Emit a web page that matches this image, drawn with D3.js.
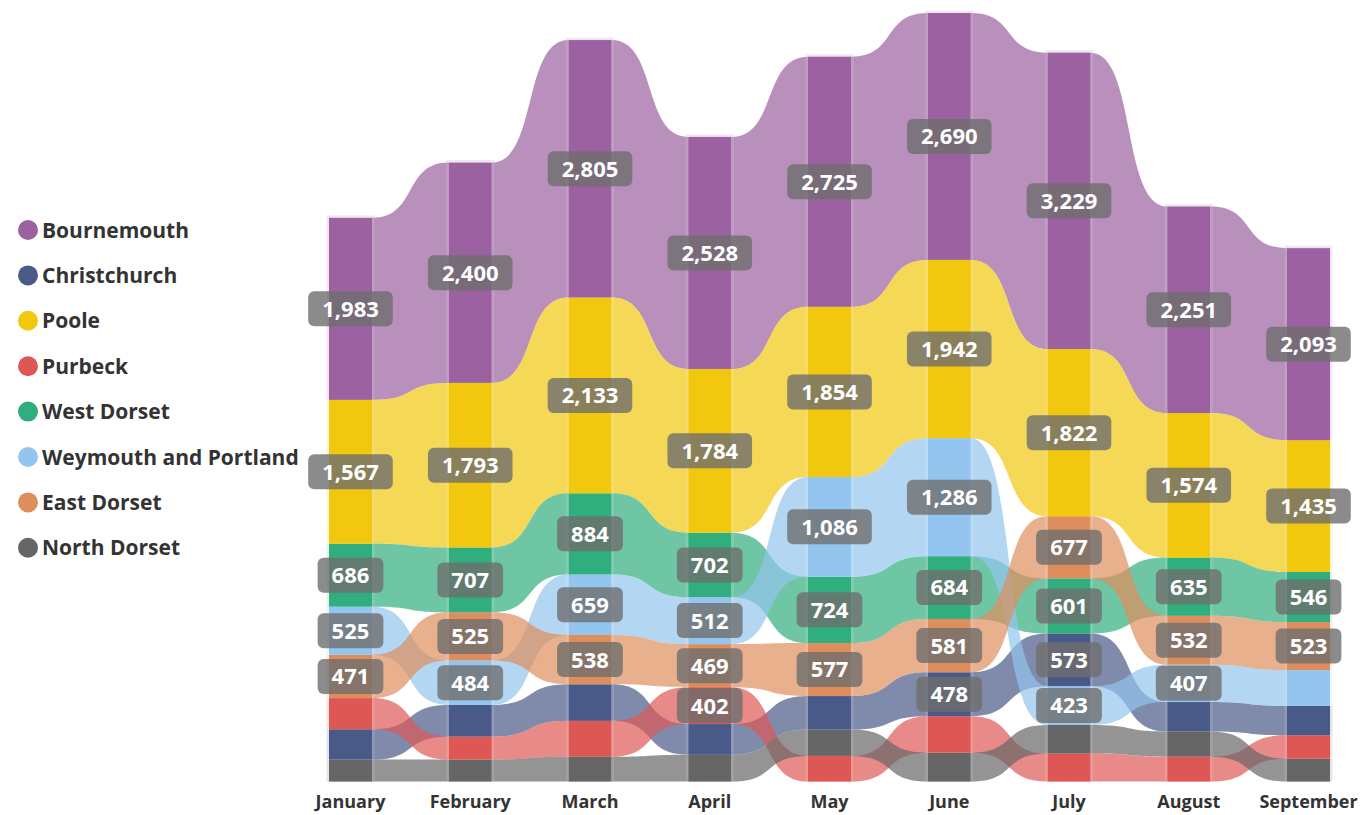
<!DOCTYPE html>
<html>
<head>
<meta charset="utf-8">
<script src="https://cdn.jsdelivr.net/npm/d3@7"></script>
<style>
  body { margin: 0; background: #fff; }
  text { font-family: "Open Sans", "Segoe UI", sans-serif; }
</style>
</head>
<body>
<svg id="chart" width="1371" height="815"></svg>
<script>
// months on the x axis
var months = ["January", "February", "March", "April", "May", "June", "July", "August", "September"];

// one array per district, month order
var bournemouth = [1983, 2400, 2805, 2528, 2725, 2690, 3229, 2251, 2093];
var christchurch = [330, 345, 398, 335, 365, 478, 573, 320, 320];
var poole = [1567, 1793, 2133, 1784, 1854, 1942, 1822, 1574, 1435];
var purbeck = [340, 250, 392, 402, 280, 398, 305, 272, 255];
var westDorset = [686, 707, 884, 702, 724, 684, 601, 635, 546];
var weymouth = [525, 484, 659, 512, 1086, 1286, 423, 407, 390];
var eastDorset = [471, 525, 538, 469, 577, 581, 677, 532, 523];
var northDorset = [240, 240, 270, 292, 287, 315, 312, 275, 250];

var seriesNames = ["Bournemouth", "Christchurch", "Poole", "Purbeck", "West Dorset",
                   "Weymouth and Portland", "East Dorset", "North Dorset"];
var seriesValues = [bournemouth, christchurch, poole, purbeck, westDorset,
                    weymouth, eastDorset, northDorset];

var palette = {
  "Bournemouth": "#9b61a0",
  "Christchurch": "#4a5a88",
  "Poole": "#f2c80f",
  "Purbeck": "#dd5855",
  "West Dorset": "#30ae7d",
  "Weymouth and Portland": "#93c5ee",
  "East Dorset": "#de8e5c",
  "North Dorset": "#666666"
};

var svg = d3.select("#chart");

// scales
var x = d3.scaleBand()
  .domain(months)
  .range([329, 1330])
  .paddingInner(0.641)
  .paddingOuter(0);

// stack each month: largest on top
var stacks = months.map(function(m, i) {
  var items = seriesNames.map(function(name, s) {
    return {name: name, s: s, value: seriesValues[s][i], month: m, i: i};
  });
  items.sort(function(a, b) { return a.value - b.value; });
  var acc = 0;
  items.forEach(function(d) { d.y0 = acc; acc += d.value; d.y1 = acc; });
  return items;
});

var totals = stacks.map(function(st) { return d3.sum(st, function(d) { return d.value; }); });

var y = d3.scaleLinear()
  .domain([0, d3.max(totals)])
  .range([781.6, 13]);

// lookup seg[s][i]
var seg = seriesNames.map(function(n, s) {
  return months.map(function(m, i) {
    return stacks[i].find(function(d) { return d.s === s; });
  });
});

// ribbons
var k = 0.6;
var ribbonG = svg.append("g").attr("class", "ribbons");
seriesNames.forEach(function(name, s) {
  for (var i = 0; i < months.length - 1; i++) {
    var a = seg[s][i], b = seg[s][i + 1];
    var x1 = x(months[i]) + x.bandwidth();
    var x2 = x(months[i + 1]);
    var dx = x2 - x1;
    var p = d3.path();
    p.moveTo(x1, y(a.y1));
    p.bezierCurveTo(x1 + k * dx, y(a.y1), x2 - k * dx, y(b.y1), x2, y(b.y1));
    p.lineTo(x2, y(b.y0));
    p.bezierCurveTo(x2 - k * dx, y(b.y0), x1 + k * dx, y(a.y0), x1, y(a.y0));
    p.closePath();
    ribbonG.append("path")
      .attr("d", p.toString())
      .attr("fill", palette[name])
      .attr("fill-opacity", 0.7);
  }
});

// pale edge round each bar
var all = d3.merge(stacks);
svg.append("g").selectAll("rect")
  .data(all)
  .enter()
  .append("rect")
    .attr("x", function(d) { return x(d.month) - 2.5; })
    .attr("y", function(d) {
      var top = d.y1 === totals[d.i];
      return y(d.y1) - (top ? 2.5 : 0);
    })
    .attr("width", x.bandwidth() + 5)
    .attr("height", function(d) {
      var top = d.y1 === totals[d.i];
      return y(d.y0) - y(d.y1) + (top ? 2.5 : 0);
    })
    .attr("fill", function(d) { return d3.interpolateRgb(palette[d.name], "#fff")(0.55); })
    .attr("fill-opacity", 0.35);

// bars
svg.append("g").selectAll("rect")
  .data(all)
  .enter()
  .append("rect")
    .attr("x", function(d) { return x(d.month); })
    .attr("y", function(d) { return y(d.y1); })
    .attr("width", x.bandwidth())
    .attr("height", function(d) { return y(d.y0) - y(d.y1); })
    .attr("fill", function(d) { return palette[d.name]; });

// data labels
var fmt = d3.format(",");
var labels = svg.append("g").selectAll("g")
  .data(all.filter(function(d) { return d.value >= 400; }))
  .enter()
  .append("g")
    .attr("transform", function(d) {
      return "translate(" + (x(d.month) + x.bandwidth() / 2) + "," + ((y(d.y0) + y(d.y1)) / 2) + ")";
    });
labels.append("rect").attr("class", "box");
labels.append("text")
  .attr("text-anchor", "middle")
  .attr("dy", "0.36em")
  .attr("fill", "#fff")
  .style("font-size", "22px")
  .style("font-weight", "bold")
  .text(function(d) { return fmt(d.value); });
labels.each(function() {
  var g = d3.select(this);
  var w = g.select("text").node().getComputedTextLength() + 28;
  g.select("rect")
    .attr("x", -w / 2)
    .attr("y", -17.5)
    .attr("width", w)
    .attr("height", 35)
    .attr("rx", 6)
    .attr("fill", "#6e6e6e")
    .attr("fill-opacity", 0.8);
});

// x axis
var xAxis = d3.axisBottom(x).tickSize(0).tickPadding(14);
var axisG = svg.append("g")
  .attr("transform", "translate(0,781.6)")
  .call(xAxis);
axisG.select(".domain").remove();
axisG.selectAll("text")
  .attr("fill", "#333")
  .style("font-size", "18px")
  .style("font-weight", "bold");

// legend
var legend = svg.append("g").selectAll("g")
  .data(seriesNames)
  .enter()
  .append("g")
    .attr("transform", function(d, i) { return "translate(28," + (230 + i * 45.4) + ")"; });
legend.append("circle")
  .attr("r", 10)
  .attr("fill", function(d) { return palette[d]; });
legend.append("text")
  .attr("x", 14)
  .attr("dy", "0.36em")
  .attr("fill", "#333")
  .style("font-size", "21px")
  .style("font-weight", "bold")
  .text(function(d) { return d; });
</script>
</body>
</html>
